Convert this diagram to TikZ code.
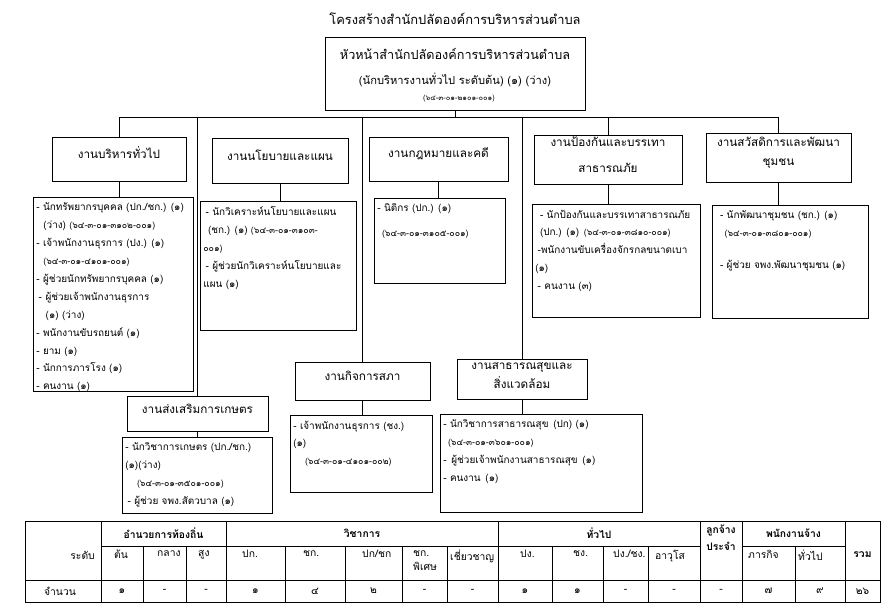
\documentclass[tikz,border=0pt]{standalone}
\usepackage{fontspec}
\setmainfont{Loma}[Script=Thai]
\usepackage{tikz}
\usetikzlibrary{fit}
\newcommand{\titlefont}{\fontsize{11}{13}\selectfont}
\newcommand{\headfont}{\fontsize{10}{17}\selectfont}
\newcommand{\listfont}{\fontsize{8.5}{15.3}\selectfont}
\newcommand{\codefont}{\fontsize{7.5}{9}\selectfont}
\newcommand{\tabfont}{\fontsize{8.8}{12}\selectfont}
\tikzset{
  unitbox/.style   = {draw,line width=0.7pt,inner sep=0pt},
  headtext/.style  = {align=center,font=\headfont},
  listtext/.style  = {align=left,anchor=north west,inner sep=0pt,font=\listfont,xshift=3pt,yshift=-5pt},
  conn/.style      = {line width=0.7pt},
  tabtext/.style   = {align=center,inner sep=0pt,font=\tabfont},
  grouptext/.style = {align=center,inner sep=0pt,font=\tabfont\bfseries}
}

\begin{document}
\begin{tikzpicture}[x=0.03cm,y=-0.03cm]
  \useasboundingbox (0,0) rectangle (896,610);
  \node[font=\titlefont] (title) at (455,19) {โครงสร้างสำนักปลัดองค์การบริหารส่วนตำบล};

  \node[unitbox,fit={(325,37) (585,110)}] (chief) {};
  \node[headtext,font=\fontsize{10.8}{13}\selectfont] (chiefa) at (455,54) {หัวหน้าสำนักปลัดองค์การบริหารส่วนตำบล};
  \node[headtext,font=\fontsize{9.5}{12}\selectfont] (chiefb) at (455,80) {(นักบริหารงานทั่วไป ระดับต้น) (๑) (ว่าง)};
  \node[font=\fontsize{6.3}{8}\selectfont] (chiefc) at (459,99) {(๖๔-๓-๐๑-๒๑๐๑-๐๐๑)};

  \node[unitbox,headtext,fit={(52,137) (186,181)}] (h1) {งานบริหารทั่วไป};
  \node[unitbox,headtext,fit={(212,138) (348,183)}] (h2) {งานนโยบายและแผน};
  \node[unitbox,headtext,fit={(369,137) (508,181)}] (h3) {งานกฎหมายและคดี};
  \node[unitbox,headtext,fit={(534,135) (682,184)}] (h4) {งานป้องกันและบรรเทา\\[5pt]สาธารณภัย};
  \node[unitbox,headtext,fit={(706,133) (851,182)}] (h5) {งานสวัสดิการและพัฒนา\\ชุมชน};
  \node[unitbox,headtext,fit={(127,396) (268,431)}] (h6) {งานส่งเสริมการเกษตร};
  \node[unitbox,headtext,fit={(295,362) (430,400)}] (h7) {งานกิจการสภา};
  \node[unitbox,headtext,fit={(457,359) (587,399)}] (h8) {งานสาธารณสุขและ\\สิ่งแวดล้อม};

  \node[unitbox,fit={(33,197) (193,391)}] (d1) {};
  \node[unitbox,fit={(200,201) (356,330)}] (d2) {};
  \node[unitbox,fit={(374,198) (505,283)}] (d3) {};
  \node[unitbox,fit={(532,204) (700,317)}] (d4) {};
  \node[unitbox,fit={(712,205) (868,318)}] (d5) {};
  \node[unitbox,fit={(122,437) (272,513)}] (d6) {};
  \node[unitbox,fit={(290,415) (432,492)}] (d7) {};
  \node[unitbox,fit={(440,414) (642,512)}] (d8) {};

  \node[listtext] (t1) at (d1.north west) {%
    - นักทรัพยากรบุคคล (ปก./ชก.) (๑)\\
    \hspace{6pt}(ว่าง) {\codefont(๖๔-๓-๐๑-๓๑๐๒-๐๐๑)}\\
    - เจ้าพนักงานธุรการ (ปง.) (๑)\\
    \hspace{6pt}{\codefont(๖๔-๓-๐๑-๔๑๐๑-๐๐๑)}\\
    -\hspace{3pt}ผู้ช่วยนักทรัพยากรบุคคล (๑)\\
    \hspace{2pt}-\hspace{3pt}ผู้ช่วยเจ้าพนักงานธุรการ\\
    \hspace{8pt}(๑) (ว่าง)\\
    - พนักงานขับรถยนต์ (๑)\\
    - ยาม (๑)\\
    - นักการภารโรง (๑)\\
    - คนงาน (๑)};
  \node[listtext] (t2) at (d2.north west) {%
    \hspace{2pt}- นักวิเคราะห์นโยบายและแผน\\
    \hspace{4pt}(ชก.) (๑) {\codefont(๖๔-๓-๐๑-๓๑๐๓-}\\
    {\codefont๐๐๑)}\\
    \hspace{2pt}- ผู้ช่วยนักวิเคราะห์นโยบายและ\\
    แผน (๑)};
  \node[listtext] (t3) at (d3.north west) {%
    - นิติกร (ปก.) (๑)\\[6pt]
    \hspace{4pt}{\codefont(๖๔-๓-๐๑-๓๑๐๕-๐๐๑)}};
  \node[listtext] (t4) at (d4.north west) {%
    \hspace{4pt}- นักป้องกันและบรรเทาสาธารณภัย\\
    \hspace{4pt}(ปก.) (๑)\hspace{4pt}{\codefont(๖๔-๓-๐๑-๓๘๑๐-๐๐๑)}\\
    \hspace{2pt}-พนักงานขับเครื่องจักรกลขนาดเบา\\
    (๑)\\
    \hspace{2pt}- คนงาน (๓)};
  \node[listtext] (t5) at (d5.north west) {%
    \hspace{4pt}- นักพัฒนาชุมชน (ชก.) (๑)\\
    \hspace{8pt}{\codefont(๖๔-๓-๐๑-๓๘๐๑-๐๐๑)}\\[12pt]
    \hspace{4pt}- ผู้ช่วย จพง.พัฒนาชุมชน (๑)};
  \node[listtext] (t6) at (d6.north west) {%
    - นักวิชาการเกษตร (ปก./ชก.)\\
    (๑)(ว่าง)\\
    \hspace{10pt}{\codefont(๖๔-๓-๐๑-๓๕๐๑-๐๐๑)}\\
    \hspace{2pt}- ผู้ช่วย จพง.สัตวบาล (๑)};
  \node[listtext] (t7) at (d7.north west) {%
    - เจ้าพนักงานธุรการ (ชง.)\\
    (๑)\\
    \hspace{10pt}{\codefont(๖๔-๓-๐๑-๔๑๐๑-๐๐๒)}};
  \node[listtext] (t8) at (d8.north west) {%
    - นักวิชาการสาธารณสุข\hspace{4pt}(ปก) (๑)\\
    \hspace{4pt}{\codefont(๖๔-๓-๐๑-๓๖๐๑-๐๐๑)}\\
    -\hspace{4pt}ผู้ช่วยเจ้าพนักงานสาธารณสุข\hspace{4pt}(๑)\\
    - คนงาน\hspace{4pt}(๑)};

  \draw[conn] (chief.south) -- ++(0,7) coordinate (bus);
  \draw[conn] (h1.north |- bus) -- (h5.north |- bus);
  \foreach \n in {h1,h4,h5,h6,h7,h8}
    \draw[conn] (\n.north |- bus) -- (\n.north);
  \foreach \a/\b in {h1/d1,h2/d2,h3/d3,h4/d4,h5/d5,h6/d6,h7/d7,h8/d8}
    \draw[conn] (\a.south) -- (\a.south |- \b.north);

  \draw[conn] (25,521) rectangle (880,602);
  \draw[conn] (25,580) -- (880,580);
  \draw[conn] (101,546) -- (700,546) (742,546) -- (845,546);
  \foreach \x in {101,226,498,700,742,845}
    \draw[conn] (\x,521) -- (\x,602);
  \foreach \x in {143,186,285,345,402,447,552,603,648,795}
    \draw[conn] (\x,546) -- (\x,602);

  \node[tabtext,anchor=east] (lvl) at (95,555) {ระดับ};
  \node[tabtext] (cnt) at (60,591) {จำนวน};
  \node[grouptext] (g1) at (163.5,533) {อำนวยการท้องถิ่น};
  \node[grouptext] (g2) at (362,533) {วิชาการ};
  \node[grouptext] (g3) at (599,533) {ทั่วไป};
  \node[grouptext,anchor=north] (g4) at (721,525) {ลูกจ้าง\\[2pt]ประจำ};
  \node[grouptext] (g5) at (793.5,533) {พนักงานจ้าง};
  \node[grouptext] (g6) at (862.5,555) {รวม};
  \foreach \x/\t [count=\i] in {114/ต้น,157/กลาง,198/สูง,242/ปก.,303/ชก.,362/{ปก/ชก},413/{ชก.\\พิเศษ},450/เชี่ยวชาญ,520/ปง.,573/ชง.,613/{ปง./ชง.},655/อาวุโส,748/ภารกิจ,798/ทั่วไป}
    \node[tabtext,align=left,anchor=north west] (sub\i) at (\x,550) {\t};
  \foreach \x/\v [count=\i] in {122/๑,164.5/-,206/-,255.5/๑,315/๔,373.5/๒,424.5/-,472.5/-,525/๑,577.5/๑,625.5/-,674/-,721/-,768.5/๗,820/๙,862.5/๒๖}
    \node[tabtext] (val\i) at (\x,591) {\v};
\end{tikzpicture}
\end{document}
